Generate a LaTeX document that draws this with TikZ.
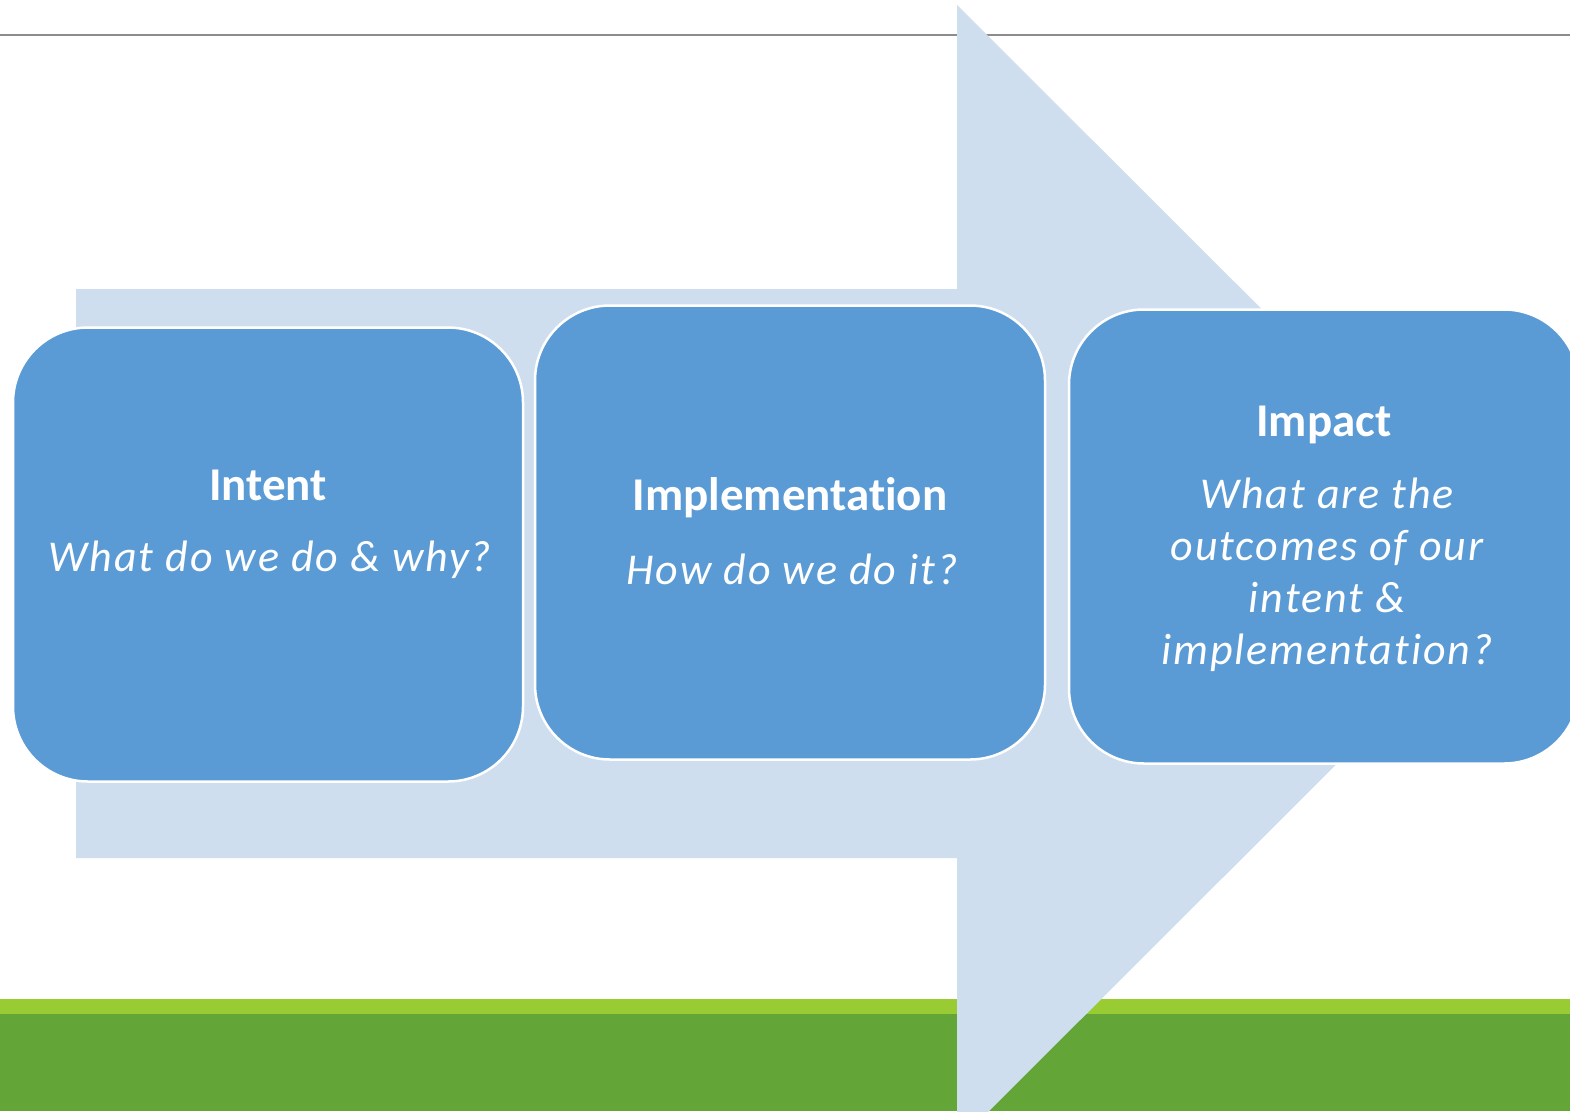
\documentclass[tikz,border=0pt]{standalone}
\usepackage{fontspec}
\setmainfont{Carlito}[Ligatures=NoCommon]
\newfontfamily\qfont{Carlito}[LetterSpace=4.5, Ligatures=NoCommon]
\definecolor{boxblue}{HTML}{5B9BD5}
\definecolor{arrowblue}{HTML}{CFDEEE}
\definecolor{lightgreen}{HTML}{99CC33}
\definecolor{darkgreen}{HTML}{63A537}
\definecolor{rulegray}{HTML}{8C8C8C}
\begin{document}
\begin{tikzpicture}[x=1pt,y=-1pt,
  card/.style={draw=white, line width=2.5pt, fill=boxblue, rounded corners=75pt,
    minimum width=510pt, minimum height=454pt, inner sep=0pt, outer sep=0pt},
  title/.style={text=white, anchor=base, inner sep=0pt, font=\fontsize{47}{56}\selectfont\bfseries},
  question/.style={text=white, anchor=base, inner sep=0pt, font=\qfont\fontsize{44}{52}\selectfont\itshape}]
\useasboundingbox (0,0) rectangle (1570,1111);
\clip (0,0) rectangle (1570,1111);
\fill[white] (0,0) rectangle (1570,1111);
% top rule
\draw[rulegray, line width=1.3pt] (0,35) -- (1570,35);
% bottom green bars
\fill[lightgreen] (0,999) rectangle (1570,1014);
\fill[darkgreen] (0,1014) rectangle (1570,1111);
% big arrow
\fill[arrowblue] (76,289) -- (957,289) -- (957,5) -- (1527,574) -- (957,1143) -- (957,858) -- (76,858) -- cycle;
% cards
\node[card] (c1) at (268,554.5) {};
\node[card] (c2) at (790,532.5) {};
\node[card] (c3) at (1324,536.5) {};
% texts
\node[title] (t1) at (268,500.7) {Intent};
\node[question] (q1) at (270,571.7) {What do we do \& why?};
\node[title] (t2) at (790,510) {Implementation};
\node[question] (q2) at (792,584) {How do we do it?};
\node[title] (t3) at (1324,436.7) {Impact};
\node[question] (q3a) at (1327,508.3) {What are the};
\node[question] (q3b) at (1327,560.7) {outcomes of our};
\node[question] (q3c) at (1327,612.7) {intent \&};
\node[question] (q3d) at (1327,664) {implementation?};
\end{tikzpicture}
\end{document}
